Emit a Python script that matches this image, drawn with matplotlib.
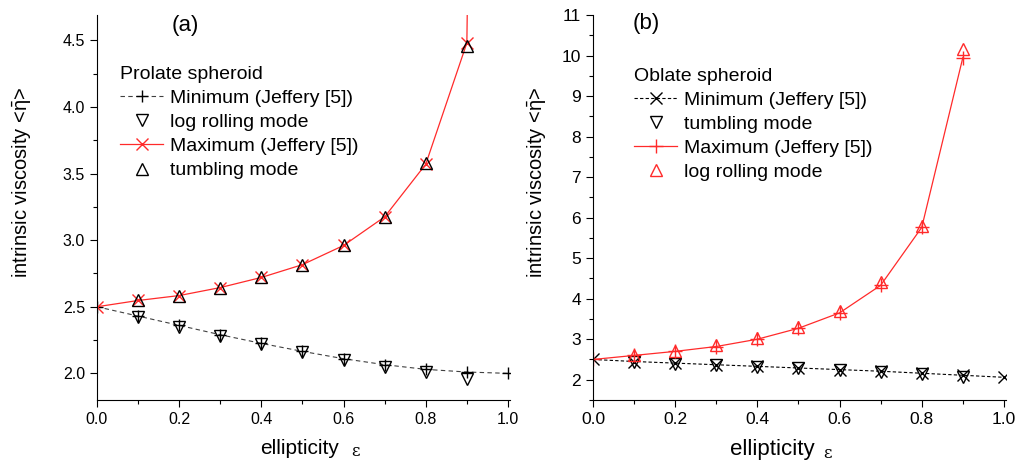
import matplotlib
matplotlib.use("Agg")
from matplotlib import pyplot as plt
from matplotlib.ticker import MultipleLocator, FormatStrFormatter

plt.rcParams['font.family'] = ['Liberation Sans', 'DejaVu Sans']
plt.rcParams['mathtext.fontset'] = 'custom'
plt.rcParams['mathtext.rm'] = 'Liberation Sans'
plt.rcParams['mathtext.it'] = 'Liberation Sans'

# ---- panel (a): prolate spheroid ----
eps = [0.0, 0.1, 0.2, 0.3, 0.4, 0.5, 0.6, 0.7, 0.8, 0.9, 1.0]
eps_modes = [0.1, 0.2, 0.3, 0.4, 0.5, 0.6, 0.7, 0.8, 0.9]

prolate_min = [2.5, 2.43, 2.36, 2.29, 2.225, 2.165, 2.11, 2.065, 2.03, 2.01, 2.0]
prolate_logroll = [2.42, 2.35, 2.28, 2.22, 2.16, 2.10, 2.05, 2.01, 1.96]
eps_max_a = [0.0, 0.1, 0.2, 0.3, 0.4, 0.5, 0.6, 0.7, 0.8, 0.9, 0.99]
prolate_max = [2.5, 2.547, 2.584, 2.644, 2.72, 2.816, 2.96, 3.175, 3.57, 4.48, 25.0]
prolate_tumble = [2.547, 2.584, 2.644, 2.72, 2.816, 2.96, 3.175, 3.58, 4.46]

# ---- panel (b): oblate spheroid ----
oblate_min = [2.5, 2.45, 2.41, 2.37, 2.33, 2.29, 2.25, 2.21, 2.16, 2.11, 2.06]
oblate_tumble = [2.44, 2.40, 2.36, 2.32, 2.28, 2.24, 2.20, 2.14, 2.06]
eps_max_b = [0.0, 0.1, 0.2, 0.3, 0.4, 0.5, 0.6, 0.7, 0.8, 0.9]
oblate_max = [2.5, 2.6, 2.7, 2.82, 3.0, 3.27, 3.65, 4.33, 5.76, 9.95]
oblate_logroll = [2.62, 2.72, 2.86, 3.02, 3.3, 3.7, 4.4, 5.8, 10.15]

red = '#ff2a2a'

fig = plt.figure(figsize=(10.17, 4.61), dpi=100)
ax1 = fig.add_axes([97 / 1017, 1 - 400 / 461, 413 / 1017, 385 / 461])
ax2 = fig.add_axes([593 / 1017, 1 - 400 / 461, 413 / 1017, 385 / 461])


def style_axes(ax, tick_size):
    ax.spines['top'].set_visible(False)
    ax.spines['right'].set_visible(False)
    ax.tick_params(which='both', direction='out', labelsize=tick_size, width=0.8)
    ax.tick_params(which='major', length=5)
    ax.tick_params(which='minor', length=3)
    ax.set_xlim(0, 1.005)
    ax.xaxis.set_major_locator(MultipleLocator(0.2))
    ax.xaxis.set_minor_locator(MultipleLocator(0.1))
    ax.xaxis.set_major_formatter(FormatStrFormatter('%.1f'))


# panel (a)
ax1.plot(eps, prolate_min, color='0.25', ls=(0, (4, 3)), lw=0.8,
         marker='+', ms=9, mew=1, mec='k', label='Minimum (Jeffery [5])')
ax1.plot(eps_modes, prolate_logroll, ls='none', marker='v', ms=9,
         mfc='none', mec='k', mew=1, label='log rolling mode')
ax1.plot(eps_max_a, prolate_max, color=red, lw=0.9, marker='x', ms=9,
         mew=1, label='Maximum (Jeffery [5])')
ax1.plot(eps_modes, prolate_tumble, ls='none', marker='^', ms=9,
         mfc='none', mec='k', mew=1, label='tumbling mode')
style_axes(ax1, 11.5)
ax1.set_ylim(1.8, 4.69)
ax1.yaxis.set_major_locator(MultipleLocator(0.5))
ax1.yaxis.set_minor_locator(MultipleLocator(0.25))
ax1.yaxis.set_major_formatter(FormatStrFormatter('%.1f'))
ax1.set_ylabel(r'intrinsic viscosity <$\bar{\eta}$>', fontsize=14.5)
ax1.yaxis.set_label_coords(-0.155, 0.566)
ax1.set_xlabel('ellipticity', fontsize=15)
ax1.xaxis.set_label_coords(0.49, -0.1)
ax1.text(0.625, -0.135, 'ε', transform=ax1.transAxes, fontsize=12,
         family='DejaVu Serif', ha='center', va='center')
ax1.text(0.215, 0.972, '(a)', transform=ax1.transAxes, fontsize=16,
         ha='center', va='center')
leg1 = ax1.legend(title='Prolate spheroid', alignment='left', loc='upper left',
                  bbox_to_anchor=(0.056, 0.867), frameon=False, fontsize=14,
                  title_fontsize=14, borderpad=0, borderaxespad=0,
                  handlelength=2.2, handletextpad=0.36, labelspacing=0.33)

# panel (b)
ax2.plot(eps, oblate_min, color='k', ls=(0, (3, 2)), lw=0.8,
         marker='x', ms=9, mew=1, label='Minimum (Jeffery [5])')
ax2.plot(eps_modes, oblate_tumble, ls='none', marker='v', ms=9,
         mfc='none', mec='k', mew=1, label='tumbling mode')
ax2.plot(eps_max_b, oblate_max, color=red, lw=0.9, marker='+', ms=10,
         mew=1, label='Maximum (Jeffery [5])')
ax2.plot(eps_modes, oblate_logroll, ls='none', marker='^', ms=9,
         mfc='none', mec=red, mew=1, label='log rolling mode')
style_axes(ax2, 12.5)
ax2.set_ylim(1.5, 11)
ax2.yaxis.set_major_locator(MultipleLocator(1))
ax2.yaxis.set_minor_locator(MultipleLocator(0.5))
ax2.set_ylabel(r'intrinsic viscosity <$\bar{\eta}$>', fontsize=14.5)
ax2.yaxis.set_label_coords(-0.11, 0.566)
ax2.set_xlabel('ellipticity', fontsize=16)
ax2.xaxis.set_label_coords(0.434, -0.1)
ax2.text(0.567, -0.14, 'ε', transform=ax2.transAxes, fontsize=12,
         family='DejaVu Serif', ha='center', va='center')
ax2.text(0.13, 0.978, '(b)', transform=ax2.transAxes, fontsize=16,
         ha='center', va='center')
leg2 = ax2.legend(title='Oblate spheroid', alignment='left', loc='upper left',
                  bbox_to_anchor=(0.1, 0.862), frameon=False, fontsize=14,
                  title_fontsize=14, borderpad=0, borderaxespad=0,
                  handlelength=2.2, handletextpad=0.36, labelspacing=0.33)

fig.savefig('out.png', dpi=100)
